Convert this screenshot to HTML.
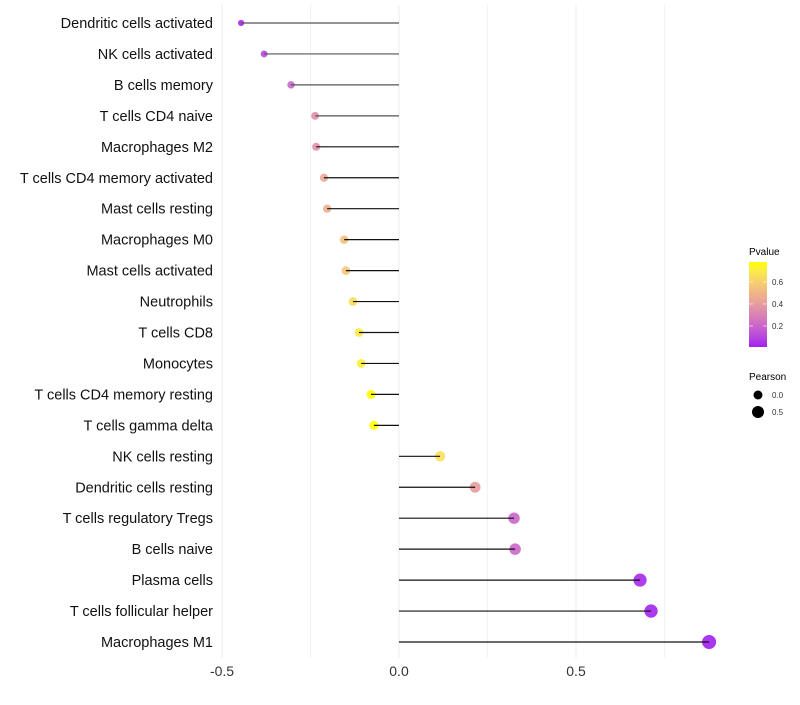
<!DOCTYPE html>
<html><head><meta charset="utf-8"><style>
body{margin:0;background:#fff;font-family:"Liberation Sans",sans-serif;}
svg text{font-family:"Liberation Sans",sans-serif;}
</style></head><body>
<svg id="chart" width="800" height="700"></svg>
<script>
const categories=["Dendritic cells activated","NK cells activated","B cells memory","T cells CD4 naive","Macrophages M2","T cells CD4 memory activated","Mast cells resting","Macrophages M0","Mast cells activated","Neutrophils","T cells CD8","Monocytes","T cells CD4 memory resting","T cells gamma delta","NK cells resting","Dendritic cells resting","T cells regulatory  Tregs ","B cells naive","Plasma cells","T cells follicular helper","Macrophages M1"];
const pearson=[-0.446,-0.381,-0.305,-0.237,-0.234,-0.212,-0.203,-0.155,-0.150,-0.130,-0.113,-0.107,-0.079,-0.071,0.116,0.215,0.325,0.328,0.681,0.712,0.876];
const pvalue=[0.03,0.10,0.20,0.35,0.35,0.45,0.47,0.55,0.56,0.65,0.70,0.72,0.78,0.78,0.66,0.40,0.20,0.20,0.03,0.02,0.01];
const xTicks=[-0.5,0,0.5];
const xMinor=[-0.25,0.25,0.75];
const pTicks=[0.2,0.4,0.6];
const sizeTicks=[0.0,0.5];

const NS="http://www.w3.org/2000/svg";
const svg=document.getElementById('chart');
function el(t,a,p){const e=document.createElementNS(NS,t);for(const k in a)e.setAttribute(k,a[k]);(p||svg).appendChild(e);return e;}
const x=v=>399+v*354;
const y=i=>23+i*30.95;
const pMin=0.01,pMax=0.78;
function s2l(c){c/=255;return c<=0.04045?c/12.92:Math.pow((c+0.055)/1.055,2.4);}
function l2s(c){c=c<=0.0031308?12.92*c:1.055*Math.pow(c,1/2.4)-0.055;return Math.round(Math.max(0,Math.min(1,c))*255);}
function toLab(rgb){const [r,g,b]=rgb.map(s2l);
 let X=(0.4124*r+0.3576*g+0.1805*b)/0.95047,Y=0.2126*r+0.7152*g+0.0722*b,Z=(0.0193*r+0.1192*g+0.9505*b)/1.08883;
 const f=t=>t>0.008856?Math.cbrt(t):7.787*t+16/116;X=f(X);Y=f(Y);Z=f(Z);
 return [116*Y-16,500*(X-Y),200*(Y-Z)];}
function fromLab(L,a,b){let Y=(L+16)/116,X=a/500+Y,Z=Y-b/200;
 const fi=t=>t*t*t>0.008856?t*t*t:(t-16/116)/7.787;X=fi(X)*0.95047;Y=fi(Y);Z=fi(Z)*1.08883;
 const r=3.2406*X-1.5372*Y-0.4986*Z,g=-0.9689*X+1.8758*Y+0.0415*Z,bb=0.0557*X-0.2040*Y+1.0570*Z;
 return `rgb(${l2s(r)},${l2s(g)},${l2s(bb)})`;}
const LA=toLab([160,32,240]),LB=toLab([255,255,0]);
function col(p){let t=Math.max(0,Math.min(1,(p-pMin)/(pMax-pMin)));
 return fromLab(LA[0]+(LB[0]-LA[0])*t,LA[1]+(LB[1]-LA[1])*t,LA[2]+(LB[2]-LA[2])*t);}
const rad=v=>Math.sqrt(Math.max(2.2,23+30*v));

xMinor.forEach(v=>{const g=el('line',{x1:x(v),x2:x(v),y1:5,y2:658,stroke:'#f2f2f2','stroke-width':1});
});
xTicks.forEach(v=>{const g=el('line',{x1:x(v),x2:x(v),y1:5,y2:658,stroke:'#ebebeb','stroke-width':1});

const t=el('text',{x:x(v),y:676,'text-anchor':'middle','font-size':14,fill:'#333'});t.textContent=v===0?'0.0':String(v);
});

categories.forEach((c,i)=>{
 const t=el('text',{x:213,y:y(i)+5,'text-anchor':'end','font-size':14.5,fill:'#111'});t.textContent=c;
 
 const d=el('circle',{cx:x(pearson[i]),cy:y(i),r:rad(pearson[i]),fill:col(pvalue[i]),'fill-opacity':0.9});
 
 const l=el('line',{x1:x(0),x2:x(pearson[i]),y1:y(i),y2:y(i),stroke:i<4?'#555':'#111','stroke-width':1.2});
 
});

const lt=el('text',{x:749,y:255,'font-size':10,fill:'#000'});lt.textContent='Pvalue';

const defs=el('defs',{});const gr=el('linearGradient',{id:'pg',x1:0,y1:1,x2:0,y2:0},defs);
for(let k=0;k<=10;k++)el('stop',{offset:k/10,'stop-color':col(pMin+(pMax-pMin)*k/10)},gr);
const bar=el('rect',{x:749,y:262,width:18,height:85,fill:'url(#pg)'});

const py=p=>347-(p-pMin)/(pMax-pMin)*85;
pTicks.forEach(p=>{el('line',{x1:749,x2:753,y1:py(p),y2:py(p),stroke:'#fff','stroke-opacity':0.6});el('line',{x1:763,x2:767,y1:py(p),y2:py(p),stroke:'#fff','stroke-opacity':0.6});
 const t=el('text',{x:772,y:py(p)+3,'font-size':8,fill:'#333'});t.textContent=String(p);
 });
const st=el('text',{x:749,y:380,'font-size':10,fill:'#000'});st.textContent='Pearson';

sizeTicks.forEach((s,k)=>{const c=el('circle',{cx:758,cy:395+k*17,r:k?6:4.5,fill:'#000'});
 
 const t=el('text',{x:772,y:398+k*17,'font-size':8,fill:'#333'});t.textContent=s.toFixed(1);
 });
</script>
</body></html>
